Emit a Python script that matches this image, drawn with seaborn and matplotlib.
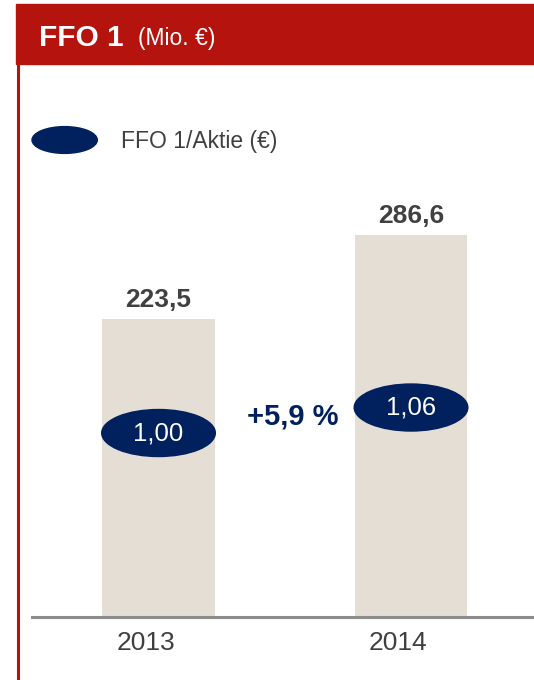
import numpy as np
import pandas as pd
import matplotlib
import matplotlib.pyplot as plt
import seaborn as sns
from matplotlib.patches import Ellipse, Rectangle
from matplotlib.lines import Line2D
from matplotlib.legend_handler import HandlerPatch
from matplotlib.transforms import ScaledTranslation

# data
years = ["2013", "2014"]
ffo1 = [223.5, 286.6]           # Mio. EUR
ffo1_per_share = [1.00, 1.06]   # EUR
growth_label = "+5,9 %"

RED = "#B5140E"
BEIGE = "#E5DED5"
NAVY = "#00215E"
GREY = "#404040"

sns.set_theme(style="white")
plt.rcParams['font.family'] = ['Liberation Sans', 'DejaVu Sans']

W, H = 534, 680
fig = plt.figure(figsize=(W / 100, H / 100), dpi=100)

def fx(px):
    return px / W

def fy(px):
    return 1 - px / H

# header band + left border
fig.patches.append(Rectangle((fx(16), fy(64)), 1 - fx(16), (64 - 4) / H,
                             transform=fig.transFigure, color=RED, zorder=0))
fig.lines.append(Line2D([fx(17.5), fx(17.5)], [0, fy(64)], transform=fig.transFigure,
                        color=RED, lw=2.2))
fig.text(fx(39), fy(45.5), "FFO 1", color="white", fontsize=21.5,
         fontweight="bold", va="baseline", ha="left")
fig.text(fx(138), fy(45.5), "(Mio. €)", color="white", fontsize=16.5,
         va="baseline", ha="left")

# main axes: bottom spine at y=617, top at 170
ax = fig.add_axes([fx(32), fy(617), 1 - fx(32), (617 - 170) / H])
df = pd.DataFrame({"year": years, "ffo": ffo1})
sns.barplot(data=df, x="year", y="ffo", color=BEIGE, saturation=1, width=0.444,
            edgecolor="none", ax=ax)
ax.set_xlim(-0.501, 1.487)
ax.set_ylim(0, 335.3)
ax.set_xlabel("")
ax.set_ylabel("")
ax.set_yticks([])
for s in ["top", "right", "left"]:
    ax.spines[s].set_visible(False)
ax.spines["bottom"].set_color("#8C8C8C")
ax.spines["bottom"].set_linewidth(2.2)
ax.tick_params(axis="x", length=0, pad=10, labelsize=19, labelcolor=GREY)
for lab in ax.get_xticklabels():
    lab.set_transform(lab.get_transform() + ScaledTranslation(-0.13, 0, fig.dpi_scale_trans))

vals = ax.bar_label(ax.containers[0], labels=[f"{v:.1f}".replace(".", ",") for v in ffo1],
                    padding=5, fontsize=19, fontweight="bold", color=GREY)
for t in vals:
    t.set_transform(t.get_transform() + ScaledTranslation(-0.04, 0, fig.dpi_scale_trans))

# per-share values on a hidden twin axis
ax2 = ax.twinx()
ax2.set_ylim(0.567, 1.619)
ax2.axis("off")
for i, v in enumerate(ffo1_per_share):
    ax2.add_patch(Ellipse((i, v), 0.45, 0.1106, color=NAVY, zorder=3))
    ax2.text(i, v, f"{v:.2f}".replace(".", ","), color="white", fontsize=18.5,
             ha="center", va="center", zorder=4)
ax2.text(0.531, 1.04, growth_label, color=NAVY, fontsize=21, fontweight="bold",
         ha="center", va="center")

# legend with ellipse handle
class HandlerEllipse(HandlerPatch):
    def create_artists(self, legend, orig_handle, xdescent, ydescent, width, height,
                       fontsize, trans):
        e = Ellipse((width / 2 - xdescent, height / 2 - ydescent), width, height)
        self.update_prop(e, orig_handle, legend)
        e.set_transform(trans)
        return [e]

handle = Ellipse((0, 0), 1, 1, color=NAVY)
fig.legend([handle], ["FFO 1/Aktie (€)"], handler_map={Ellipse: HandlerEllipse()},
           loc="center left", bbox_to_anchor=(fx(32), fy(140)), frameon=False,
           fontsize=16.5, labelcolor=GREY, handlelength=2.85, handleheight=1.42,
           handletextpad=1.05, borderpad=0, borderaxespad=0)

fig.savefig("out.png", dpi=100)
